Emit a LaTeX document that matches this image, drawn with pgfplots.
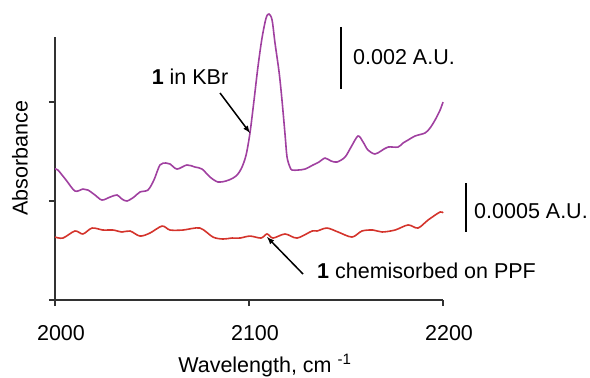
\documentclass[border=0pt]{standalone}
\usepackage{pgfplots}
\pgfplotsset{compat=1.18}
\usepackage{fontspec}
\setmainfont{Liberation Sans}
\definecolor{purp}{RGB}{160,64,160}
\definecolor{redc}{RGB}{212,52,44}
\definecolor{axc}{RGB}{50,50,50}
\begin{document}
\begin{tikzpicture}[x=1bp,y=1bp,font=\fontsize{21.5bp}{25bp}\selectfont]
\begin{axis}[
  at={(55bp,77bp)}, anchor=south west,
  scale only axis, width=388bp, height=263bp,
  xmin=2000, xmax=2200, ymin=0, ymax=2.657,
  axis x line=bottom, axis y line=left,
  axis line style={-, line width=1.3bp, draw=axc},
  xtick={2000,2100,2200}, ytick={0,1,2}, yticklabels={},
  tick align=outside, major tick length=6bp,
  tick style={line width=1.3bp, draw=axc},
  xticklabel style={anchor=north, yshift=-16bp, xshift=6bp},
  /pgf/number format/assume math mode=true,
  /pgf/number format/1000 sep={},
  xlabel={Wavelength, cm \textsuperscript{-1}},
  xlabel style={at={(rel axis cs:0.541,-0.2738)}, anchor=base},
  ylabel={Absorbance},
  ylabel style={at={(rel axis cs:-0.0902,0.54)}, anchor=center},
  clip=false,
]
\addplot[purp, line width=1.6bp, smooth, tension=0.5] coordinates {
(2000.0,1.323) (2001.5,1.313) (2005.7,1.212) (2010.3,1.101) (2014.4,1.121)
(2017.0,1.111) (2020.6,1.061) (2024.2,1.010) (2028.4,1.040) (2032.0,1.061)
(2034.5,1.020) (2037.1,1.000) (2040.7,1.040) (2043.8,1.091) (2047.9,1.111)
(2051.0,1.212) (2054.1,1.364) (2057.2,1.384) (2059.3,1.374) (2062.9,1.323)
(2068.0,1.364) (2072.2,1.343) (2075.8,1.323) (2079.9,1.242) (2084.0,1.192)
(2088.1,1.202) (2091.8,1.232) (2094.3,1.273) (2096.4,1.343) (2098.5,1.465)
(2100.5,1.687) (2102.6,2.020) (2104.6,2.354) (2106.7,2.646) (2108.8,2.848)
(2110.3,2.889) (2111.9,2.828) (2113.4,2.596) (2115.5,2.303) (2117.0,2.020)
(2118.6,1.667) (2119.6,1.444) (2121.1,1.343) (2122.2,1.313) (2125.3,1.313)
(2128.9,1.323) (2133.0,1.364) (2136.1,1.394) (2139.2,1.434) (2142.3,1.404)
(2145.4,1.394) (2149.5,1.444) (2152.6,1.545) (2156.2,1.657) (2158.8,1.596)
(2161.3,1.515) (2164.9,1.475) (2168.0,1.505) (2171.6,1.545) (2176.8,1.545)
(2179.4,1.586) (2182.0,1.616) (2185.6,1.657) (2190.7,1.687) (2193.3,1.737)
(2195.9,1.818) (2198.5,1.919) (2200.0,2.000)
};
\addplot[redc, line width=1.6bp, smooth, tension=0.5] coordinates {
(2000.0,0.636) (2004.1,0.626) (2010.3,0.697) (2014.4,0.667) (2019.1,0.727)
(2024.7,0.707) (2029.9,0.707) (2034.5,0.687) (2038.7,0.697) (2043.8,0.646)
(2049.0,0.677) (2055.2,0.747) (2059.3,0.707) (2066.0,0.707) (2074.7,0.727)
(2081.4,0.636) (2086.6,0.616) (2091.2,0.626) (2095.4,0.626) (2100.5,0.646)
(2106.2,0.626) (2109.3,0.667) (2112.4,0.626) (2118.6,0.667) (2124.8,0.626)
(2132.5,0.697) (2135.1,0.697) (2140.2,0.727) (2145.9,0.687) (2153.1,0.636)
(2158.2,0.697) (2163.9,0.707) (2168.6,0.687) (2175.3,0.707) (2182.0,0.758)
(2187.1,0.727) (2192.3,0.808) (2198.5,0.889) (2200.0,0.879)
};
\end{axis}
% scale bars
\draw[line width=1.5bp, black] (341,350) -- (341,288);
\node[anchor=west, inner sep=0pt] at (353,320) {0.002 A.U.};
\draw[line width=1.5bp, black] (466,194) -- (466,145);
\node[anchor=west, inner sep=0pt] at (474,166) {0.0005 A.U.};
% annotations
\node[inner sep=0pt] at (190,300) {\textbf{1} in KBr};
\draw[line width=1.5bp, black, -{latex}] (220,284) -- (250,244);
\node[anchor=west, inner sep=0pt] at (317,106) {\textbf{1} chemisorbed on PPF};
\draw[line width=1.5bp, black, -{latex}] (303,103) -- (267,140);
\pgfresetboundingbox
\path (0,0) rectangle (590,377);
\end{tikzpicture}
\end{document}
